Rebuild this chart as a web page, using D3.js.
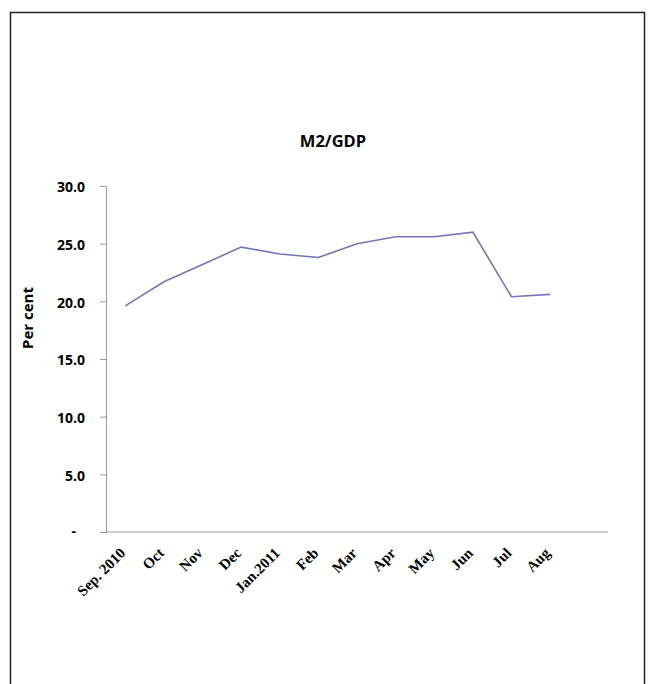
<!DOCTYPE html>
<html>
<head>
<meta charset="utf-8">
<script src="https://cdn.jsdelivr.net/npm/d3@7"></script>
<style>
  body { margin: 0; background: #fff; }
  svg { display: block; }
</style>
</head>
<body>
<svg id="chart" width="650" height="684"></svg>
<script>
// M2/GDP, per cent, monthly
var months = ["Sep. 2010", "Oct", "Nov", "Dec", "Jan.2011", "Feb", "Mar", "Apr", "May", "Jun", "Jul", "Aug"];
var m2gdp = [19.6, 21.7, 23.2, 24.7, 24.1, 23.8, 25.0, 25.6, 25.6, 26.0, 20.4, 20.6];
var yTicks = [0, 5, 10, 15, 20, 25, 30];

var svg = d3.select("#chart");

// outer frame
svg.append("rect")
   .attr("x", 10.5).attr("y", 12.5)
   .attr("width", 634).attr("height", 700)
   .attr("fill", "none")
   .attr("stroke", "#222")
   .attr("stroke-width", 1.5);

var plotLeft = 106, plotRight = 608, plotTop = 186, plotBottom = 532;
var step = (plotRight - plotLeft) / (months.length + 1);

var x = d3.scaleBand()
          .domain(months)
          .range([plotLeft, plotLeft + step * months.length]);

var y = d3.scaleLinear()
          .domain([0, 30])
          .range([plotBottom, plotTop]);

// y axis
var yAxis = d3.axisLeft(y)
              .tickValues(yTicks)
              .tickSize(6)
              .tickPadding(15)
              .tickFormat(function(d) { return d === 0 ? "-" : d.toFixed(1); });

var gy = svg.append("g")
   .attr("transform", "translate(" + plotLeft + ",0)")
   .call(yAxis);
gy.select(".domain").attr("stroke", "#9a9a9a");
gy.selectAll(".tick line").attr("stroke", "#9a9a9a");
gy.selectAll(".tick text")
  .attr("font-family", "'Open Sans', sans-serif")
  .attr("font-weight", "bold")
  .attr("font-size", 14)
  .attr("fill", "#000")
  .attr("dy", "0.42em");
gy.selectAll(".tick text").filter(function(d) { return d === 0; })
  .attr("dx", -9).attr("dy", "0.25em");
gy.attr("font-size", null).attr("font-family", null);

// x axis line
svg.append("line")
   .attr("x1", plotLeft).attr("x2", plotRight)
   .attr("y1", plotBottom).attr("y2", plotBottom)
   .attr("stroke", "#9a9a9a");

// x labels
svg.append("g").selectAll("text")
   .data(months)
   .enter()
   .append("text")
   .attr("transform", function(d) {
       return "translate(" + (x(d) + x.bandwidth() / 2 + 1) + "," + (plotBottom + 22) + ") rotate(-45)";
   })
   .attr("text-anchor", "end")
   .attr("font-family", "'Liberation Serif', 'Times New Roman', serif")
   .attr("font-weight", "bold")
   .attr("font-size", 15)
   .text(function(d) { return d; });

// line
var line = d3.line()
             .x(function(d, i) { return x(months[i]) + x.bandwidth() / 2; })
             .y(function(d) { return y(d); });

svg.append("path")
   .datum(m2gdp)
   .attr("d", line)
   .attr("fill", "none")
   .attr("stroke", "#7575b5")
   .attr("stroke-width", 1.6);

// title
svg.append("text")
   .attr("x", 333).attr("y", 147)
   .attr("text-anchor", "middle")
   .attr("font-family", "'Open Sans', sans-serif")
   .attr("font-weight", "bold")
   .attr("font-size", 16.5)
   .text("M2/GDP");

// y label
svg.append("text")
   .attr("transform", "translate(33,318) rotate(-90)")
   .attr("text-anchor", "middle")
   .attr("font-family", "'Open Sans', sans-serif")
   .attr("font-weight", "bold")
   .attr("font-size", 15)
   .text("Per cent");
</script>
</body>
</html>
